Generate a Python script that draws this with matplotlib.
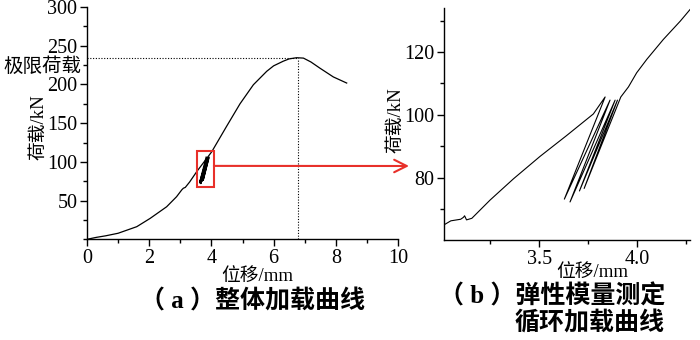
import matplotlib
matplotlib.use("Agg")
import matplotlib.pyplot as plt
from matplotlib.patches import Rectangle
from matplotlib.ticker import MultipleLocator, FixedLocator

# ---- data ----
# panel (a): overall loading curve (displacement mm, load kN)
a_x = [0, 0.3, 0.6, 1.0, 1.6, 2.03, 2.56, 2.88, 3.05, 3.10, 3.16, 3.3, 3.53, 4.01, 4.49,
       4.92, 5.35, 5.78, 6.0, 6.31, 6.5, 6.74, 6.96, 7.2, 7.49, 7.92, 8.35]
a_y = [0, 2.5, 4.5, 7.8, 16.3, 27, 42, 55, 64, 66, 67, 74, 87.5, 113, 146,
       175, 199.6, 217, 224, 230, 233, 234.5, 234, 229, 221, 209.7, 201.8]
peak_x = 6.8
peak_y = 234.5

# panel (b): cyclic loading for elastic modulus
b_x_pre = [3.02, 3.05, 3.08, 3.10, 3.114, 3.12, 3.13, 3.157, 3.25, 3.37, 3.505, 3.64, 3.777, 3.837]
b_y_pre = [65.2, 66.3, 66.6, 66.8, 67.4, 67.9, 66.6, 67.1, 72.9, 79.7, 86.8, 93.4, 100.3, 105.7]
cyc_x = [3.629, 3.862, 3.658, 3.888, 3.706, 3.900, 3.730]
cyc_y = [73.2, 104.7, 72.3, 104.7, 75.8, 104.7, 76.6]
b_x_post = [3.917, 3.956, 3.998, 4.05, 4.134, 4.22, 4.27]
b_y_post = [105.7, 108.9, 113.4, 117.7, 124, 129.8, 133.5]

a_xticks = [0, 2, 4, 6, 8, 10]
a_yticks = [50, 100, 150, 200, 250, 300]
b_xticks = [3.5, 4.0]
b_xticklabels = ["3.5", "4.0"]
b_yticks = [80, 100, 120]

xlabel = "位移/mm"
ylabel = "荷载/kN"
limit_label = "极限荷载"
cap_a = "（ a ）整体加载曲线"
cap_b1 = "（ b ）弹性模量测定"
cap_b2 = "循环加载曲线"

# ---- style ----
FAM = ["Liberation Serif", "Noto Sans CJK SC", "DejaVu Sans"]
plt.rcParams["font.family"] = FAM
plt.rcParams["axes.linewidth"] = 1.0

W, H = 700, 340
fig = plt.figure(figsize=(7, 3.4), dpi=100)

def fx(px):
    return px / W

def fy(py):
    return 1 - py / H

RED = "#e8302a"
TICK_FS = 14.5
LAB_FS = 13.5
CAP_FS = 18

def style_axes(ax):
    for s in ("top", "right"):
        ax.spines[s].set_visible(False)
    ax.tick_params(which="major", direction="out", length=5, width=1.0,
                   labelsize=TICK_FS, pad=2)
    ax.tick_params(which="minor", direction="out", length=3, width=1.0)
    for lab in ax.get_xticklabels() + ax.get_yticklabels():
        lab.set_family(FAM)

# ---- panel (a) ----
axa = fig.add_axes([fx(87), fy(239.3), fx(398) - fx(87), fy(7) - fy(239.3)])
axa.plot(a_x, a_y, color="black", lw=0.9)
# cyclic loops seen compressed in panel (a)
axa.plot([b_x_pre[-1]] + cyc_x + [b_x_post[0]], [b_y_pre[-1]] + cyc_y + [b_y_post[0]],
         color="black", lw=1.3)
axa.set_xlim(0, 10)
axa.set_ylim(0, 300)
axa.xaxis.set_major_locator(FixedLocator(a_xticks))
axa.xaxis.set_minor_locator(MultipleLocator(1))
axa.yaxis.set_major_locator(FixedLocator(a_yticks))
axa.yaxis.set_minor_locator(MultipleLocator(25))
style_axes(axa)
axa.plot([0, peak_x], [peak_y, peak_y], color="black", lw=0.8, ls=(0, (1, 1.5)))
axa.plot([peak_x, peak_x], [0, peak_y], color="black", lw=0.8, ls=(0, (1, 1.5)))
axa.add_patch(Rectangle((3.54, 67.7), 0.54, 46.3, fill=False, edgecolor=RED, lw=1.5,
                        clip_on=False, zorder=5))
axa.annotate("", xy=(fx(409), fy(166)), xycoords="figure fraction",
             xytext=(4.08, 94.8), textcoords="data", annotation_clip=False,
             arrowprops=dict(arrowstyle="->,head_length=0.9,head_width=0.45",
                             color=RED, lw=1.5, shrinkA=0, shrinkB=0))

fig.text(fx(81), fy(67), limit_label, ha="right", va="center", fontsize=14, family=FAM)
fig.text(fx(39), fy(127), ylabel, ha="center", va="center", rotation=90,
         fontsize=LAB_FS, family=FAM)
fig.text(fx(257), fy(276), xlabel, ha="center", va="center", fontsize=LAB_FS, family=FAM)
fig.text(fx(253), fy(301), cap_a, ha="center", va="center", fontsize=CAP_FS,
         family=FAM, weight="bold")

# ---- panel (b) ----
axb = fig.add_axes([fx(444), fy(240), fx(690) - fx(444), fy(8) - fy(240)])
bx = b_x_pre + cyc_x + b_x_post
by = b_y_pre + cyc_y + b_y_post
axb.plot(bx, by, color="black", lw=0.8)
axb.set_xlim(3.015, 4.27)
axb.set_ylim(60.2, 134)
axb.xaxis.set_major_locator(FixedLocator(b_xticks))
axb.set_xticklabels(b_xticklabels)
axb.xaxis.set_minor_locator(FixedLocator([3.25, 3.75, 4.25]))
axb.yaxis.set_major_locator(FixedLocator(b_yticks))
axb.yaxis.set_minor_locator(FixedLocator([70, 90, 110, 130]))
style_axes(axb)

fig.text(fx(396), fy(120), ylabel, ha="center", va="center", rotation=90,
         fontsize=LAB_FS, family=FAM)
fig.text(fx(592), fy(272), xlabel, ha="center", va="center", fontsize=LAB_FS, family=FAM)
fig.text(fx(665), fy(296), cap_b1, ha="right", va="center", fontsize=CAP_FS,
         family=FAM, weight="bold")
fig.text(fx(665), fy(323), cap_b2, ha="right", va="center", fontsize=CAP_FS,
         family=FAM, weight="bold")

fig.savefig("out.png", dpi=100)
